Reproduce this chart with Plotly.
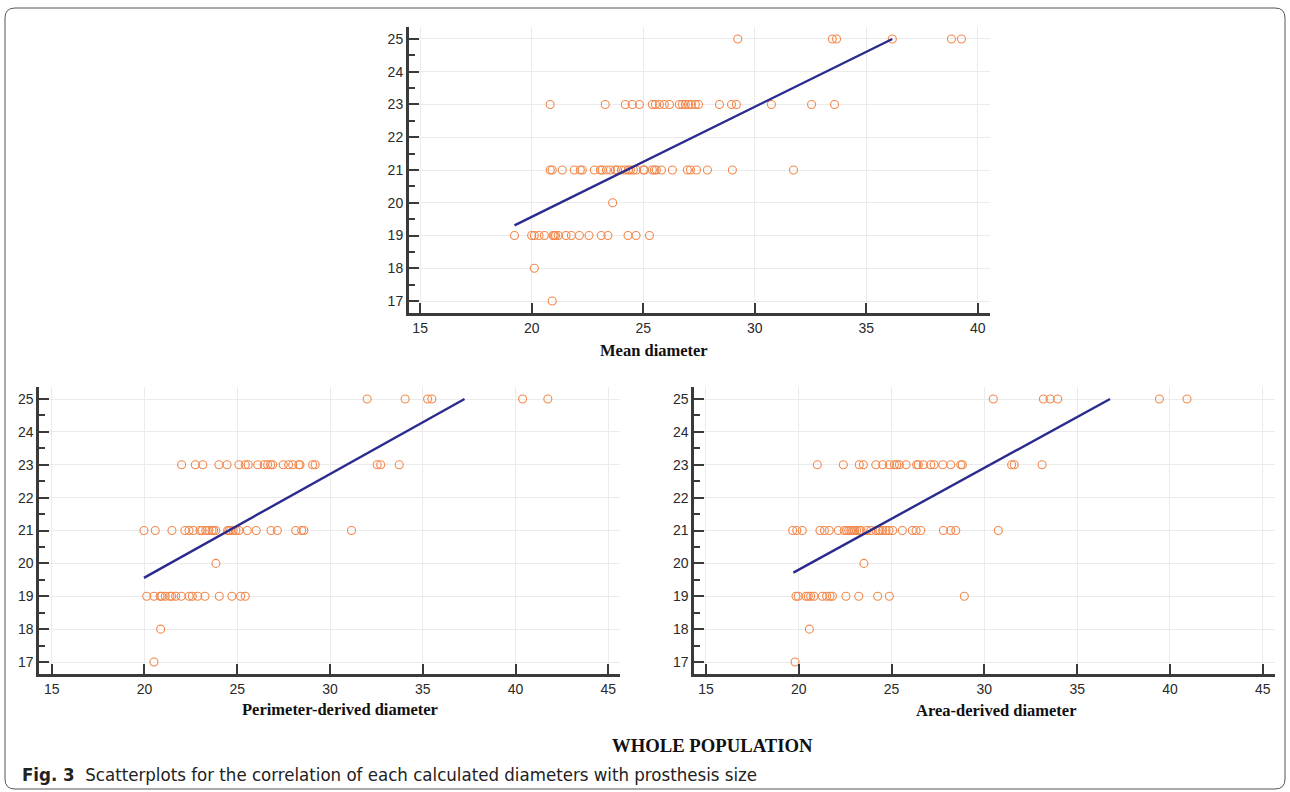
import plotly.graph_objects as go

# ---------------- data ----------------
# Mean diameter vs prosthesis size
mean_x_25 = [29.24, 33.48, 33.67, 36.17, 38.82, 39.27]
mean_x_23 = [20.83, 23.30, 24.20, 24.51, 24.83, 25.41, 25.55, 25.73, 25.95, 26.18, 26.62,
             26.76, 26.89, 27.03, 27.16, 27.34, 27.48, 28.42, 28.96, 29.18, 30.75, 32.55, 33.58]
mean_x_21 = [20.83, 20.92, 21.37, 21.91, 22.18, 22.27, 22.81, 23.08, 23.17, 23.35, 23.53,
             23.75, 23.84, 24.02, 24.20, 24.34, 24.43, 24.56, 24.69, 25.01, 25.05, 25.41,
             25.50, 25.59, 25.82, 26.31, 26.98, 27.12, 27.39, 27.88, 29.00, 31.74]
mean_x_20 = [23.63]
mean_x_19 = [19.23, 20.00, 20.12, 20.33, 20.57, 20.96, 21.01, 21.07, 21.19, 21.54, 21.78,
             22.14, 22.57, 23.12, 23.42, 24.32, 24.68, 25.28]
mean_x_18 = [20.12]
mean_x_17 = [20.92]
mean_fit_x = [19.23, 36.17]
mean_fit_y = [19.31, 25.0]

# Perimeter-derived diameter vs prosthesis size
per_x_25 = [32.00, 34.05, 35.26, 35.49, 40.38, 41.74]
per_x_23 = [22.00, 22.74, 23.14, 24.01, 24.45, 25.09, 25.43, 25.59, 26.10, 26.45, 26.64,
            26.80, 26.91, 27.48, 27.77, 27.99, 28.32, 28.38, 29.06, 29.20, 32.54, 32.73, 33.73]
per_x_21 = [19.97, 20.58, 21.48, 22.18, 22.40, 22.63, 22.99, 23.11, 23.30, 23.47, 23.64,
            23.73, 23.84, 24.48, 24.55, 24.64, 24.78, 24.93, 25.09, 25.54, 26.02, 26.82,
            27.16, 28.15, 28.47, 28.59, 31.16]
per_x_20 = [23.85]
per_x_19 = [20.12, 20.51, 20.84, 20.93, 21.12, 21.37, 21.47, 21.68, 21.98, 22.41, 22.58,
            22.87, 23.26, 24.03, 24.71, 25.18, 25.43]
per_x_18 = [20.87]
per_x_17 = [20.51]
per_fit_x = [19.97, 37.25]
per_fit_y = [19.56, 25.0]

# Area-derived diameter vs prosthesis size
area_x_25 = [30.48, 33.18, 33.54, 33.95, 39.43, 40.92]
area_x_23 = [21.00, 22.40, 23.26, 23.48, 24.15, 24.52, 24.88, 25.15, 25.28, 25.42, 25.78,
             26.35, 26.44, 26.71, 27.11, 27.29, 27.76, 28.19, 28.73, 28.81, 31.47, 31.61, 33.11]
area_x_21 = [19.67, 19.89, 20.19, 21.14, 21.38, 21.64, 22.13, 22.45, 22.58, 22.69, 22.80,
             22.91, 23.01, 23.12, 23.26, 23.35, 23.66, 23.88, 24.16, 24.29, 24.38, 24.52,
             24.70, 24.86, 25.06, 25.58, 26.12, 26.32, 26.57, 27.79, 28.19, 28.46, 30.75]
area_x_20 = [23.51]
area_x_19 = [19.85, 19.97, 20.39, 20.51, 20.64, 20.82, 21.27, 21.50, 21.68, 21.81, 22.54,
             23.23, 24.25, 24.88, 28.92]
area_x_18 = [20.57]
area_x_17 = [19.80]
area_fit_x = [19.71, 36.77]
area_fit_y = [19.72, 25.0]

sizes = [25, 23, 21, 20, 19, 18, 17]
x_ticks = [15, 20, 25, 30, 35, 40, 45]
y_ticks = [17, 18, 19, 20, 21, 22, 23, 24, 25]

titles = ["Mean diameter", "Perimeter-derived diameter", "Area-derived diameter"]
main_title = "WHOLE POPULATION"
caption_bold = "Fig. 3"
caption_text = "Scatterplots for the correlation of each calculated diameters with prosthesis size"

# ---------------- figure ----------------
MARKER_COLOR = "#F3874A"
LINE_COLOR = "#2B2A8E"

panels = [
    ([mean_x_25, mean_x_23, mean_x_21, mean_x_20, mean_x_19, mean_x_18, mean_x_17],
     mean_fit_x, mean_fit_y, "x", "y"),
    ([per_x_25, per_x_23, per_x_21, per_x_20, per_x_19, per_x_18, per_x_17],
     per_fit_x, per_fit_y, "x2", "y2"),
    ([area_x_25, area_x_23, area_x_21, area_x_20, area_x_19, area_x_18, area_x_17],
     area_fit_x, area_fit_y, "x3", "y3"),
]

fig = go.Figure()
for groups, fx, fy, xa, ya in panels:
    xs, ys = [], []
    for s, g in zip(sizes, groups):
        xs += g
        ys += [s] * len(g)
    fig.add_trace(go.Scatter(
        x=xs, y=ys, mode="markers", xaxis=xa, yaxis=ya, showlegend=False,
        marker=dict(symbol="circle-open", size=8, color=MARKER_COLOR,
                    line=dict(width=1.1, color=MARKER_COLOR)),
    ))
    fig.add_trace(go.Scatter(
        x=fx, y=fy, mode="lines", xaxis=xa, yaxis=ya, showlegend=False,
        line=dict(color=LINE_COLOR, width=2.4),
    ))

W, H = 1290, 792
def px_x(p):
    return p / W
def px_y(p):
    return 1 - p / H

tick_font = dict(family="Liberation Sans, Arial, sans-serif", size=14, color="#2a2a2a")

def xaxis(dom, rng, anchor):
    return dict(domain=dom, range=rng, anchor=anchor, tickvals=x_ticks,
                showgrid=True, gridcolor="#ebebeb", gridwidth=1, zeroline=False,
                showline=True, linecolor="#3a3a3a", linewidth=3,
                ticks="inside", ticklen=10, tickwidth=2, tickcolor="#3a3a3a",
                tickfont=tick_font, fixedrange=True)

def yaxis(dom, anchor):
    return dict(domain=dom, range=[16.635, 25.365], anchor=anchor, tickvals=y_ticks,
                showgrid=True, gridcolor="#ebebeb", gridwidth=1, zeroline=False,
                showline=True, linecolor="#3a3a3a", linewidth=3,
                ticks="inside", ticklen=10, tickwidth=2, tickcolor="#3a3a3a",
                minor=dict(dtick=0.5, ticks="inside", ticklen=6, tickwidth=1.5,
                           tickcolor="#3a3a3a", showgrid=False),
                tickfont=tick_font, fixedrange=True)

top_y = [px_y(313), px_y(27)]
bot_y = [px_y(674), px_y(387)]

fig.update_layout(
    width=W, height=H,
    margin=dict(l=0, r=0, t=0, b=0),
    paper_bgcolor="white", plot_bgcolor="white",
    xaxis=xaxis([px_x(409), px_x(990)], [14.5, 40.55], "y"),
    yaxis=yaxis(top_y, "x"),
    xaxis2=xaxis([px_x(39.3), px_x(620)], [14.33, 45.63], "y2"),
    yaxis2=yaxis(bot_y, "x2"),
    xaxis3=xaxis([px_x(694.3), px_x(1275)], [14.37, 45.66], "y3"),
    yaxis3=yaxis(bot_y, "x3"),
)

serif_bold = dict(family="Liberation Serif, Times New Roman, serif", size=16.5, color="#111111")
ann = [
    dict(text="<b>%s</b>" % titles[0], x=px_x(654), y=px_y(351)),
    dict(text="<b>%s</b>" % titles[1], x=px_x(340), y=px_y(709)),
    dict(text="<b>%s</b>" % titles[2], x=px_x(996), y=px_y(710)),
]
for a in ann:
    fig.add_annotation(xref="paper", yref="paper", showarrow=False,
                       xanchor="center", yanchor="middle", font=serif_bold, **a)
fig.add_annotation(xref="paper", yref="paper", showarrow=False, x=px_x(712), y=px_y(745),
                   xanchor="center", yanchor="middle", text="<b>%s</b>" % main_title,
                   font=dict(family="Liberation Serif, Times New Roman, serif", size=18.7,
                             color="#111111"))
fig.add_annotation(xref="paper", yref="paper", showarrow=False, x=px_x(20), y=px_y(774),
                   xanchor="left", yanchor="middle",
                   text="<b>%s</b>  %s" % (caption_bold, caption_text),
                   font=dict(family="Liberation Sans Narrow, DejaVu Sans Condensed, sans-serif",
                             size=18.5, color="#222222"))

# rounded frame around the figure
x0, x1, y0, y1, r = px_x(5), px_x(1285), px_y(8), px_y(789), 10
rx, ry = r / W, r / H
path = (f"M {x0+rx},{y0} L {x1-rx},{y0} Q {x1},{y0} {x1},{y0-ry} "
        f"L {x1},{y1+ry} Q {x1},{y1} {x1-rx},{y1} L {x0+rx},{y1} "
        f"Q {x0},{y1} {x0},{y1+ry} L {x0},{y0-ry} Q {x0},{y0} {x0+rx},{y0} Z")
fig.add_shape(type="path", path=path, xref="paper", yref="paper",
              line=dict(color="#555555", width=1))

fig.write_html("out.html", config={"displayModeBar": False},
               post_script="document.body.style.margin='0';document.body.style.overflow='hidden';")
